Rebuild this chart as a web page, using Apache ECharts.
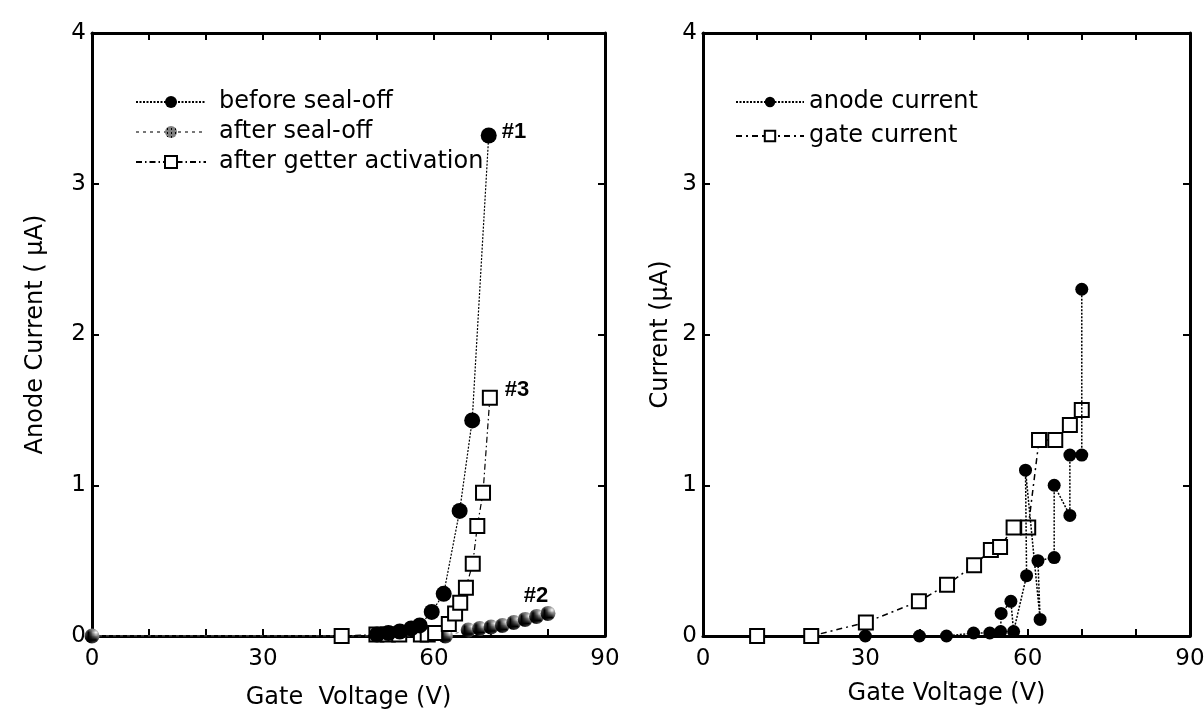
<!DOCTYPE html>
<html><head><meta charset="utf-8">
<script src="https://cdn.jsdelivr.net/npm/echarts@6/dist/echarts.min.js"></script>
<style>html,body{margin:0;padding:0;background:#fff}#c{width:1204px;height:712px}</style>
</head><body><div id="c"></div>
<script>
// ---- Left panel data (Gate Voltage V, Anode Current µA)
const beforeV = [50, 52, 54, 56, 57.5, 59.6, 61.7, 64.5, 66.7, 69.6];
const beforeI = [0.01, 0.02, 0.03, 0.05, 0.07, 0.16, 0.28, 0.83, 1.43, 3.32];
const afterV = [0, 62, 66, 68, 70, 72, 74, 76, 78, 80];
const afterI = [0, 0, 0.04, 0.05, 0.06, 0.07, 0.09, 0.11, 0.13, 0.15];
const getterV = [43.8, 49.9, 51.9, 53.9, 57.7, 58.9, 60.2, 62.6, 63.7, 64.6, 65.6, 66.8, 67.6, 68.6, 69.8];
const getterI = [0, 0.01, 0.01, 0.01, 0.01, 0.01, 0.02, 0.08, 0.15, 0.22, 0.32, 0.48, 0.73, 0.95, 1.58];
// ---- Right panel data (Gate Voltage V, Current µA)
const anodeV = [30, 40, 45, 50, 53, 55, 55.1, 56.9, 57.4, 59.8, 59.6, 62.3, 61.9, 64.9, 64.9, 67.8, 67.8, 70, 70];
const anodeI = [0, 0, 0, 0.02, 0.02, 0.03, 0.15, 0.23, 0.03, 0.40, 1.10, 0.11, 0.50, 0.52, 1.00, 0.80, 1.20, 1.20, 2.30];
const gateV = [10, 20, 30.1, 39.9, 45.1, 50.1, 53.2, 54.9, 57.4, 60.1, 62.1, 65.1, 67.8, 70];
const gateI = [0, 0, 0.09, 0.23, 0.34, 0.47, 0.57, 0.59, 0.72, 0.72, 1.30, 1.30, 1.40, 1.50];
// ---- Axis ticks
const xTickLabels = [0, 30, 60, 90];
const yTickLabels = [0, 1, 2, 3, 4];
const labelNames = {before: '#1', after: '#2', getter: '#3'};

function zip(a, b) { return a.map((v, i) => [v, b[i]]); }
function hatch() {
  const c = document.createElement('canvas'); c.width = 4; c.height = 4;
  const g = c.getContext('2d');
  g.fillStyle = '#fff'; g.fillRect(0, 0, 4, 4);
  g.fillStyle = '#000';
  for (let y = 0; y < 4; y++) for (let x = 0; x < 4; x++) {
    if ((x + y) % 2 === 0 || (x === 3 && y === 0)) g.fillRect(x, y, 1, 1);
  }
  return c;
}
const FONT = 'DejaVu Sans, Liberation Sans, Arial, sans-serif';
const FS = 24;
const hatchFill = {image: hatch(), repeat: 'repeat'};

function withLast(arr, label) {
  const d = arr.slice();
  const last = d.length - 1;
  d[last] = {value: d[last], label: label};
  return d;
}

function xAxes(gi) {
  const base = {
    gridIndex: gi, type: 'value', min: 0, max: 90, interval: 10,
    axisLine: {show: true, onZero: false, lineStyle: {color: '#000', width: 3}},
    axisTick: {show: true, inside: true, length: 7, lineStyle: {color: '#000', width: 2}},
    splitLine: {show: false}
  };
  return [
    Object.assign({}, base, {
      position: 'bottom',
      axisLabel: {show: true, color: '#000', fontSize: FS - 1, fontFamily: FONT, margin: 12,
        formatter: v => xTickLabels.indexOf(v) >= 0 ? String(v) : ''},
      name: gi === 0 ? 'Gate  Voltage (V)' : 'Gate Voltage (V)',
      nameLocation: 'middle', nameGap: gi === 0 ? 50 : 46,
      nameTextStyle: {color: '#000', fontSize: FS, fontFamily: FONT}
    }),
    Object.assign({}, base, {position: 'top', axisLabel: {show: false}})
  ];
}
function yAxes(gi) {
  const base = {
    gridIndex: gi, type: 'value', min: 0, max: 4, interval: 1,
    axisLine: {show: true, onZero: false, lineStyle: {color: '#000', width: 3}},
    axisTick: {show: true, inside: true, length: 7, lineStyle: {color: '#000', width: 2}},
    splitLine: {show: false}
  };
  return [
    Object.assign({}, base, {
      position: 'left',
      axisLabel: {show: true, color: '#000', fontSize: FS - 1, fontFamily: FONT, margin: 6,
        formatter: v => yTickLabels.indexOf(v) >= 0 ? String(v) : ''},
      name: gi === 0 ? 'Anode Current ( \u00b5A)' : 'Current (\u00b5A)',
      nameLocation: 'middle', nameGap: gi === 0 ? 44 : 30, nameRotate: 90,
      nameTextStyle: {color: '#000', fontSize: FS, fontFamily: FONT}
    }),
    Object.assign({}, base, {position: 'right', axisLabel: {show: false}})
  ];
}

const lblStyle = {show: true, color: '#000', fontSize: 22, fontWeight: 'bold', fontFamily: 'Liberation Sans, Arial, sans-serif'};

const option = {
  backgroundColor: '#fff',
  animation: false,
  grid: [
    {left: 92, top: 33, width: 513, height: 603, containLabel: false, outerBoundsMode: 'none'},
    {left: 703, top: 33, width: 487, height: 603, containLabel: false, outerBoundsMode: 'none'}
  ],
  xAxis: xAxes(0).concat(xAxes(1)),
  yAxis: yAxes(0).concat(yAxes(1)),
  legend: [
    {left: 130, top: 85, orient: 'vertical', itemWidth: 70, itemHeight: 15, itemGap: 6,
      textStyle: {color: '#000', fontSize: FS, fontFamily: FONT, padding: [0, 0, 0, 8]},
      data: ['before seal-off', 'after seal-off', 'after getter activation']},
    {left: 730, top: 85, orient: 'vertical', itemWidth: 68, itemHeight: 13, itemGap: 10,
      textStyle: {color: '#000', fontSize: FS, fontFamily: FONT, padding: [0, 0, 0, 0]},
      data: ['anode current', 'gate current']}
  ],
  series: [
    {name: 'after seal-off', type: 'line', xAxisIndex: 0, yAxisIndex: 0,
      data: withLast(zip(afterV, afterI), Object.assign({}, lblStyle, {position: 'top', offset: [-12, 6], formatter: labelNames.after})),
      symbol: 'circle', symbolSize: 15, z: 2,
      lineStyle: {color: '#777', width: 1, type: [3, 4]},
      itemStyle: {color: hatchFill, borderWidth: 0}},
    {name: 'after getter activation', type: 'line', xAxisIndex: 0, yAxisIndex: 0,
      data: withLast(zip(getterV, getterI), Object.assign({}, lblStyle, {position: 'right', offset: [2, -8], formatter: labelNames.getter})),
      symbol: 'rect', symbolSize: 14, z: 3,
      lineStyle: {color: '#000', width: 1.2, type: [6, 3, 1.5, 3]},
      itemStyle: {color: '#fff', borderColor: '#000', borderWidth: 2}},
    {name: 'before seal-off', type: 'line', xAxisIndex: 0, yAxisIndex: 0,
      data: withLast(zip(beforeV, beforeI), Object.assign({}, lblStyle, {position: 'right', offset: [0, -4], formatter: labelNames.before})),
      symbol: 'circle', symbolSize: 16, z: 4,
      lineStyle: {color: '#000', width: 1.2, type: [2, 1.5]},
      itemStyle: {color: '#000', borderWidth: 0}},
    {name: 'gate current', type: 'line', xAxisIndex: 2, yAxisIndex: 2,
      data: zip(gateV, gateI),
      symbol: 'rect', symbolSize: 14, z: 3,
      lineStyle: {color: '#000', width: 1.5, type: [6, 4, 2, 4]},
      itemStyle: {color: '#fff', borderColor: '#000', borderWidth: 2}},
    {name: 'anode current', type: 'line', xAxisIndex: 2, yAxisIndex: 2,
      data: zip(anodeV, anodeI),
      symbol: 'circle', symbolSize: 13, z: 4,
      lineStyle: {color: '#000', width: 1.5, type: [2, 1.5]},
      itemStyle: {color: '#000', borderWidth: 0}}
  ]
};
const chart = echarts.init(document.getElementById('c'), null, {renderer: 'canvas'});
chart.setOption(option);
</script></body></html>
